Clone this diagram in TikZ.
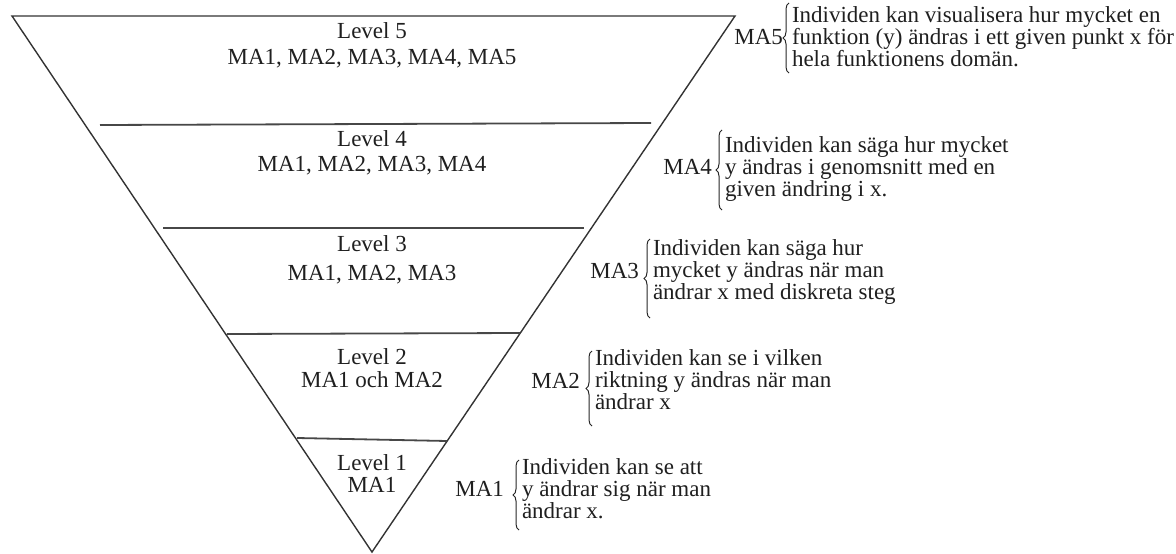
\documentclass[tikz,border=0pt]{standalone}
\usepackage{fontspec}
\setmainfont{Liberation Serif}
\usetikzlibrary{decorations.pathreplacing}
\begin{document}
\begin{tikzpicture}[x=1pt,y=-1pt,
  every node/.style={inner sep=0pt, outer sep=0pt, font=\fontsize{23}{22}\selectfont, text=black!88},
  outline/.style={draw=black!80, line width=1.4pt, line join=miter},
  divider/.style={draw=black!72, line width=1.8pt},
  lvl/.style={anchor=base},
  malabel/.style={anchor=base east},
  desc/.style={anchor=north west, align=left},
  bracepath/.style={draw=black!85, line width=1pt, decorate, decoration={brace, amplitude=6pt}},
]
\useasboundingbox (0,0) rectangle (1176,554);

% triangle
\coordinate (tl) at (12,16);
\coordinate (tr) at (735,16);
\coordinate (ap) at (372,552);
\draw[outline] (tl) -- (tr) -- (ap) -- cycle;

% dividers
\coordinate (d4l) at (100,125); \coordinate (d4r) at (651,123);
\coordinate (d3l) at (163,228); \coordinate (d3r) at (584,228);
\coordinate (d2l) at (227,334); \coordinate (d2r) at (520,333);
\coordinate (d1l) at (297,438); \coordinate (d1r) at (447,441);
\draw[divider] (d4l) -- (d4r);
\draw[divider] (d3l) -- (d3r);
\draw[divider] (d2l) -- (d2r);
\draw[divider] (d1l) -- (d1r);

% level texts
\node[lvl] (l5) at (372,38) {Level 5};
\node[lvl] (l5m) at (372,64) {MA1, MA2, MA3, MA4, MA5};
\node[lvl] (l4) at (372,146) {Level 4};
\node[lvl] (l4m) at (372,171) {MA1, MA2, MA3, MA4};
\node[lvl] (l3) at (372,251) {Level 3};
\node[lvl] (l3m) at (372,280) {MA1, MA2, MA3};
\node[lvl] (l2) at (372,364) {Level 2};
\node[lvl] (l2m) at (372,387) {MA1 och MA2};
\node[lvl] (l1) at (372,470) {Level 1};
\node[lvl] (l1m) at (372,492) {MA1};

% MA5
\node[malabel] (m5) at (783,44) {MA5};
\node[desc] (t5) at (792,6.3) {Individen kan visualisera hur mycket en\\funktion (y) ändras i ett given punkt x för\\hela funktionens domän.};
\coordinate (b5a) at (789,73); \coordinate (b5b) at (789,3);
\draw[bracepath] (b5a) -- (b5b);

% MA4
\node[malabel] (m4) at (712,174) {MA4};
\node[desc] (t4) at (725,136.3) {Individen kan säga hur mycket\\y ändras i genomsnitt med en\\given ändring i x.};
\coordinate (b4a) at (722,210); \coordinate (b4b) at (722,130);
\draw[bracepath] (b4a) -- (b4b);

% MA3
\node[malabel] (m3) at (639,278) {MA3};
\node[desc] (t3) at (653,239.3) {Individen kan säga hur\\mycket y ändras när man\\ändrar x med diskreta steg};
\coordinate (b3a) at (650,318); \coordinate (b3b) at (650,239);
\draw[bracepath] (b3a) -- (b3b);

% MA2
\node[malabel] (m2) at (580,388) {MA2};
\node[desc] (t2) at (595,349.3) {Individen kan se i vilken\\riktning y ändras när man\\ändrar x};
\coordinate (b2a) at (592,426); \coordinate (b2b) at (592,351);
\draw[bracepath] (b2a) -- (b2b);

% MA1
\node[malabel] (m1) at (504,496) {MA1};
\node[desc] (t1) at (522,458.3) {Individen kan se att\\y ändrar sig när man\\ändrar x.};
\coordinate (b1a) at (519,530); \coordinate (b1b) at (519,460);
\draw[bracepath] (b1a) -- (b1b);
\end{tikzpicture}
\end{document}
